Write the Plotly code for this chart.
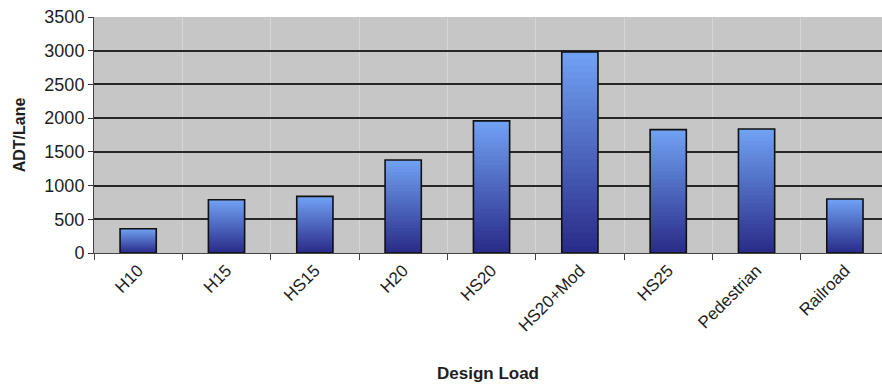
import plotly.graph_objects as go

categories = ["H10", "H15", "HS15", "H20", "HS20", "HS20+Mod", "HS25", "Pedestrian", "Railroad"]
values = [360, 790, 840, 1380, 1960, 2980, 1830, 1840, 800]
y_ticks = [0, 500, 1000, 1500, 2000, 2500, 3000, 3500]

top_rgb = (112, 160, 242)
bot_rgb = (42, 44, 138)
N = 30

fig = go.Figure()
for k in range(N):
    frac = (N - k) / N
    t = k / (N - 1)
    c = tuple(int(round(top_rgb[i] * (1 - t) + bot_rgb[i] * t)) for i in range(3))
    fig.add_trace(go.Bar(
        x=categories, y=[v * frac for v in values], base=0,
        width=0.41, marker=dict(color="rgb(%d,%d,%d)" % c, line=dict(width=0)),
        showlegend=False, hoverinfo="skip"))
fig.add_trace(go.Bar(
    x=categories, y=values, base=0, width=0.41,
    marker=dict(color="rgba(0,0,0,0)", line=dict(color="#111111", width=1.6)),
    showlegend=False, name="ADT/Lane"))

fig.update_layout(
    width=882, height=387,
    margin=dict(l=94, r=0, t=17, b=134),
    barmode="overlay",
    paper_bgcolor="white",
    plot_bgcolor="#c6c6c6",
    font=dict(family="Liberation Sans, Arial, sans-serif", size=17, color="#1e1e1e"),
    xaxis=dict(
        type="category", range=[-0.5, 8.42], automargin=False,
        tickson="boundaries", ticks="outside", ticklen=6, tickcolor="#444",
        showgrid=True, gridcolor="#d6d6d6", gridwidth=1,
        showline=True, linecolor="#444", linewidth=1,
        tickangle=-45, tickfont=dict(size=17),
        title=dict(text="<b>Design Load</b>", font=dict(size=17), standoff=32),
    ),
    yaxis=dict(
        range=[0, 3500], tickvals=y_ticks, automargin=False,
        ticks="outside", ticklen=5, tickcolor="#333",
        ticklabeloverflow="allow",
        showgrid=True, gridcolor="#262626", gridwidth=1.5,
        showline=True, linecolor="#444", linewidth=1,
        tickfont=dict(size=18),
        title=dict(text="<b>ADT/Lane</b>", font=dict(size=16), standoff=14),
        zeroline=False,
    ),
)

fig.write_html("out.html", config={"displayModeBar": False},
               post_script="document.body.style.margin='0';")
